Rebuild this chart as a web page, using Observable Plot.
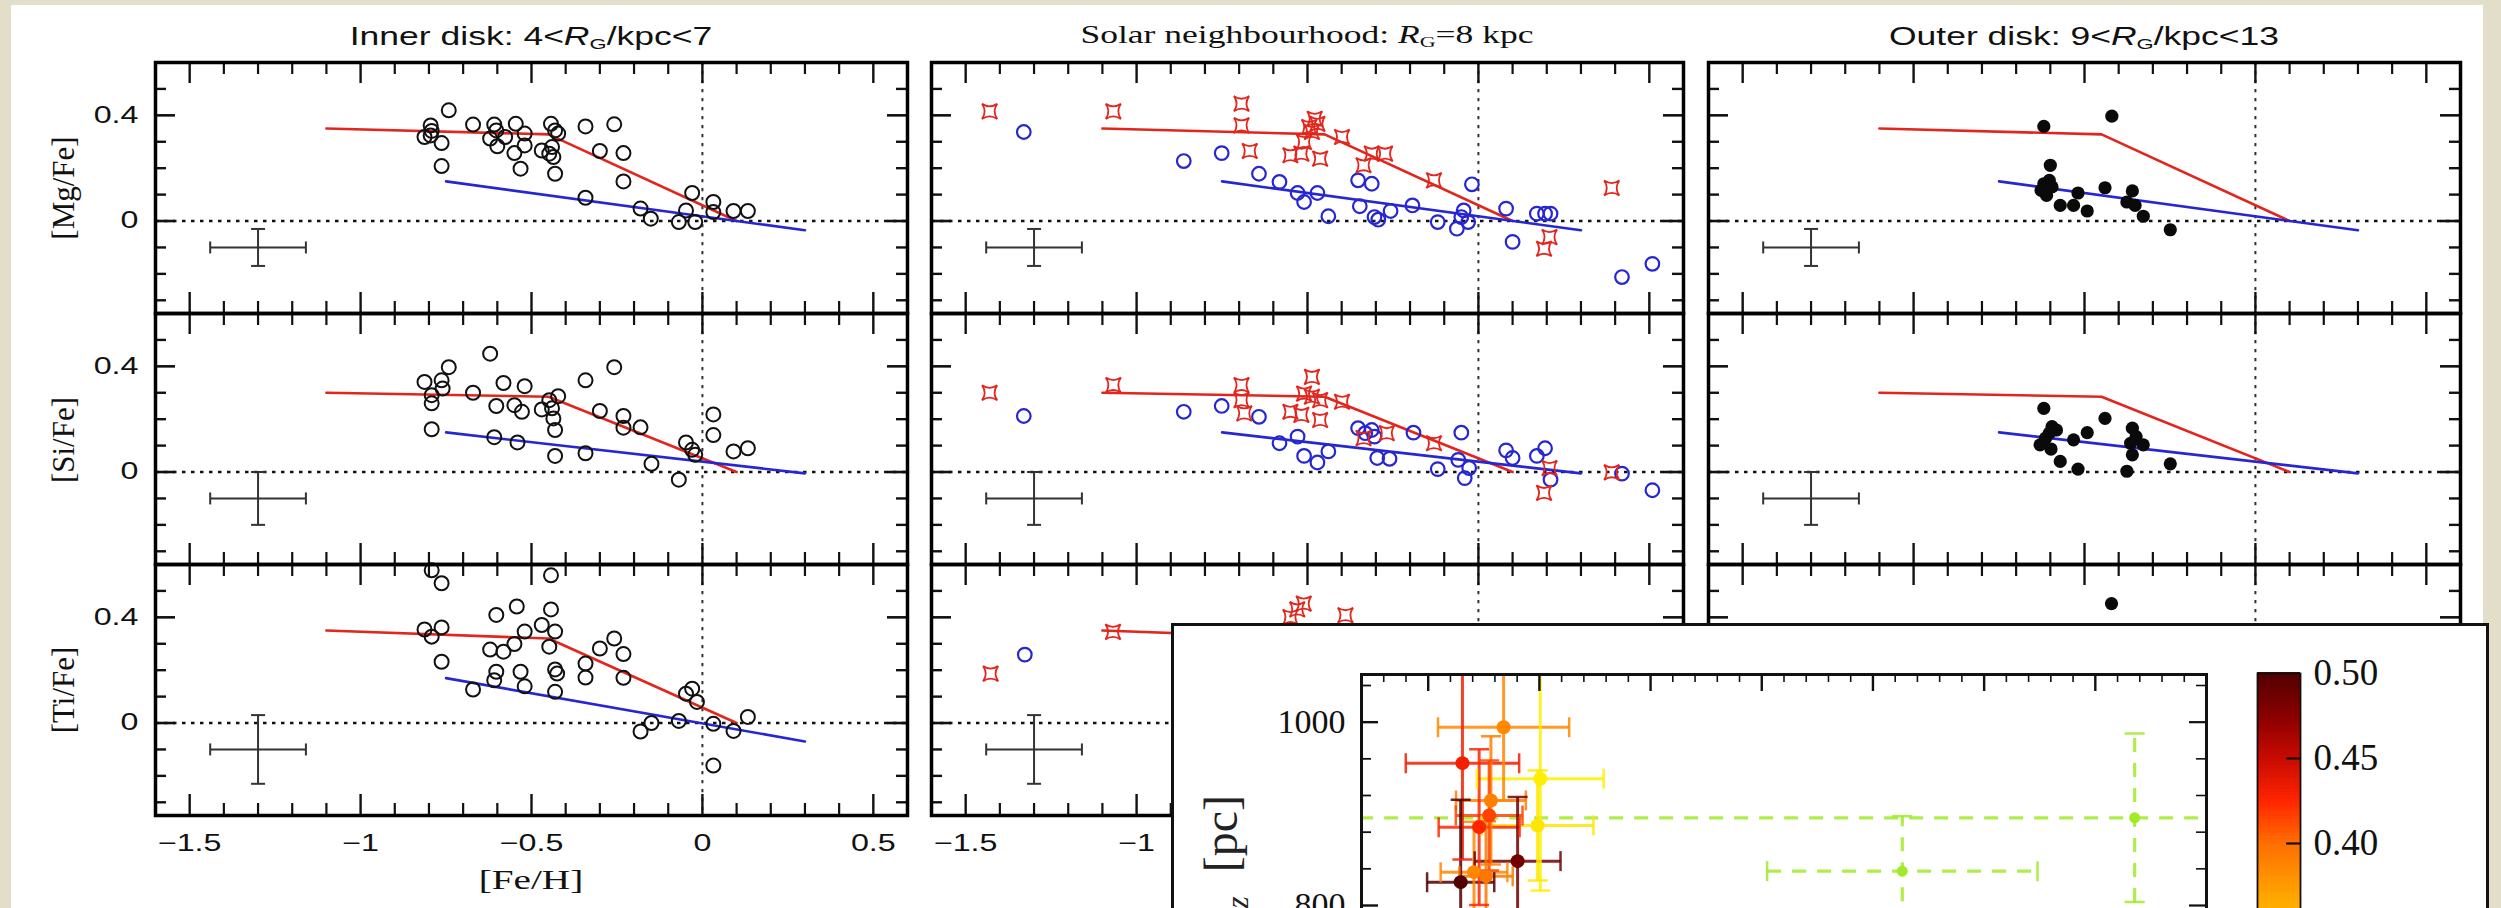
<!DOCTYPE html>
<html><head><meta charset="utf-8">
<script src="https://cdn.jsdelivr.net/npm/d3@7"></script>
<script src="https://cdn.jsdelivr.net/npm/@observablehq/plot@0.6"></script>
<style>
html,body{margin:0;padding:0;background:#e3dec9;overflow:hidden;}
#root{position:relative;width:2501px;height:908px;overflow:hidden;background:#e3dec9;}
#card{position:absolute;left:11px;top:5px;width:2472px;height:940px;background:#fff;}
.ttl{position:absolute;text-align:center;font-size:25px;line-height:30px;white-space:nowrap;transform:scaleX(1.42);color:#111;}
.ttl sub{font-size:0.62em;line-height:0;vertical-align:-0.25em;}
.sans{font-family:"Liberation Sans",Arial,sans-serif;}
.serif{font-family:"Liberation Serif","Times New Roman",serif;}
.ylab{position:absolute;width:200px;height:34px;line-height:34px;text-align:center;font-size:31px;transform:rotate(-90deg);white-space:nowrap;color:#111;}
.xlab{position:absolute;width:300px;height:34px;line-height:34px;text-align:center;font-size:27px;transform:scaleX(1.45);white-space:nowrap;color:#111;}
#insetbox{position:absolute;left:1171px;top:623px;width:1318px;height:400px;background:#fff;border:3px solid #111;box-sizing:border-box;}
.pc{position:absolute;width:400px;height:50px;line-height:50px;text-align:right;font-size:48px;transform:rotate(-90deg);white-space:nowrap;color:#222;}
.pc sub{font-size:0.65em;line-height:0;}
svg{position:absolute;overflow:visible;background:transparent;}
</style></head>
<body><div id="root"><div id="card"></div></div>
<script>
// ---------------- data ----------------
const regions = ["Inner disk", "Solar neighbourhood", "Outer disk"];
const elements = ["[Mg/Fe]", "[Si/Fe]", "[Ti/Fe]"];
const xTickLabels = [-1.5, -1, -0.5, 0, 0.5];
const yTickLabels = [0, 0.4];

// [Mg/Fe]
const innerMg = [[-0.742,0.419],[-0.795,0.362],[-0.792,0.341],[-0.813,0.318],[-0.795,0.324],[-0.763,0.295],[-0.763,0.208],[-0.671,0.365],[-0.609,0.365],[-0.603,0.343],[-0.621,0.312],[-0.600,0.283],[-0.546,0.368],[-0.577,0.318],[-0.520,0.331],[-0.550,0.257],[-0.532,0.198],[-0.520,0.286],[-0.470,0.267],[-0.443,0.368],[-0.431,0.343],[-0.422,0.331],[-0.448,0.255],[-0.436,0.242],[-0.431,0.179],[-0.440,0.280],[-0.342,0.358],[-0.258,0.366],[-0.300,0.265],[-0.231,0.257],[-0.231,0.150],[-0.342,0.088],[-0.181,0.047],[-0.151,0.009],[-0.069,-0.004],[-0.021,-0.004],[-0.048,0.040],[-0.030,0.106],[0.032,0.072],[0.032,0.034],[0.091,0.038],[0.133,0.038]];
const solarMgThick = [[-1.43,0.415],[-1.068,0.415],[-0.693,0.444],[-0.693,0.362],[-0.669,0.265],[-0.55,0.249],[-0.518,0.255],[-0.463,0.236],[-0.51,0.299],[-0.487,0.337],[-0.471,0.368],[-0.479,0.387],[-0.495,0.356],[-0.399,0.318],[-0.336,0.211],[-0.312,0.255],[-0.273,0.255],[-0.13,0.154],[0.39,0.125],[0.208,-0.061],[0.192,-0.105]];
const solarMgThin = [[-1.33,0.337],[-0.862,0.227],[-0.751,0.257],[-0.642,0.179],[-0.582,0.148],[-0.529,0.106],[-0.51,0.072],[-0.471,0.106],[-0.439,0.018],[-0.352,0.154],[-0.312,0.141],[-0.347,0.056],[-0.304,0.015],[-0.293,0.005],[-0.257,0.038],[-0.193,0.059],[-0.119,-0.004],[-0.063,-0.029],[-0.043,0.04],[-0.05,0.015],[-0.03,-0.004],[-0.019,0.139],[0.081,0.047],[0.1,-0.079],[0.171,0.028],[0.195,0.028],[0.211,0.028],[0.42,-0.212],[0.509,-0.162]];
const outerMg = [[-0.619,0.358],[-0.42,0.397],[-0.6,0.211],[-0.619,0.141],[-0.603,0.154],[-0.595,0.129],[-0.611,0.097],[-0.571,0.059],[-0.532,0.059],[-0.519,0.106],[-0.492,0.038],[-0.44,0.126],[-0.36,0.114],[-0.376,0.072],[-0.352,0.059],[-0.328,0.018],[-0.249,-0.033],[-0.627,0.116]];

// [Si/Fe]
const innerSi = [[-0.621,0.448],[-0.742,0.397],[-0.813,0.341],[-0.763,0.347],[-0.76,0.316],[-0.792,0.291],[-0.792,0.26],[-0.792,0.162],[-0.671,0.3],[-0.582,0.337],[-0.52,0.325],[-0.603,0.25],[-0.55,0.253],[-0.528,0.228],[-0.47,0.237],[-0.448,0.272],[-0.422,0.287],[-0.44,0.241],[-0.436,0.203],[-0.431,0.159],[-0.609,0.132],[-0.541,0.112],[-0.431,0.061],[-0.342,0.347],[-0.258,0.397],[-0.3,0.231],[-0.231,0.212],[-0.231,0.168],[-0.181,0.169],[-0.342,0.071],[-0.149,0.031],[-0.069,-0.029],[-0.048,0.112],[-0.03,0.084],[-0.021,0.065],[0.032,0.218],[0.032,0.14],[0.091,0.078],[0.133,0.09]];
const solarSiThick = [[-1.43,0.3],[-1.068,0.329],[-0.693,0.329],[-0.693,0.272],[-0.685,0.222],[-0.487,0.36],[-0.51,0.297],[-0.487,0.285],[-0.463,0.272],[-0.55,0.228],[-0.518,0.216],[-0.463,0.197],[-0.399,0.266],[-0.336,0.128],[-0.268,0.147],[-0.13,0.109],[0.208,0.015],[0.192,-0.079],[0.39,-0.001]];
const solarSiThin = [[-1.33,0.212],[-0.862,0.228],[-0.751,0.25],[-0.642,0.209],[-0.529,0.134],[-0.582,0.109],[-0.51,0.061],[-0.471,0.036],[-0.439,0.078],[-0.352,0.166],[-0.312,0.159],[-0.304,0.134],[-0.331,0.147],[-0.296,0.053],[-0.26,0.05],[-0.19,0.149],[-0.119,0.011],[-0.05,0.149],[-0.059,0.046],[-0.04,-0.023],[-0.027,0.015],[0.081,0.082],[0.1,0.053],[0.171,0.061],[0.195,0.09],[0.211,-0.029],[0.42,-0.006],[0.509,-0.069]];
const outerSi = [[-0.619,0.241],[-0.44,0.203],[-0.595,0.172],[-0.582,0.159],[-0.603,0.147],[-0.492,0.149],[-0.614,0.128],[-0.63,0.103],[-0.598,0.087],[-0.532,0.122],[-0.36,0.166],[-0.349,0.134],[-0.328,0.103],[-0.36,0.065],[-0.376,0.003],[-0.571,0.04],[-0.519,0.011],[-0.249,0.031],[-0.365,0.109]];

// [Ti/Fe]
const innerTi = [[-0.792,0.578],[-0.763,0.529],[-0.443,0.559],[-0.603,0.409],[-0.543,0.441],[-0.443,0.43],[-0.813,0.354],[-0.792,0.327],[-0.763,0.362],[-0.763,0.232],[-0.671,0.127],[-0.621,0.278],[-0.582,0.27],[-0.55,0.299],[-0.52,0.346],[-0.47,0.371],[-0.431,0.346],[-0.448,0.289],[-0.603,0.194],[-0.609,0.162],[-0.532,0.194],[-0.52,0.139],[-0.431,0.203],[-0.425,0.187],[-0.431,0.118],[-0.342,0.225],[-0.342,0.172],[-0.3,0.282],[-0.258,0.32],[-0.231,0.261],[-0.231,0.171],[-0.181,-0.032],[-0.149,0.0],[-0.069,0.008],[-0.048,0.111],[-0.03,0.13],[-0.016,0.08],[0.032,-0.003],[0.091,-0.03],[0.133,0.023],[0.032,-0.161]];
const solarTiThick = [[-1.427,0.187],[-1.069,0.345],[-0.511,0.452],[-0.55,0.401],[-0.389,0.408],[-0.53,0.43]];
const solarTiThin = [[-1.327,0.259]];
const outerTi = [[-0.421,0.452]];

// chemical evolution models (thick disc = red, thin disc = blue)
const thickMg = [[-1.1,0.35],[-0.45,0.328],[0.1,0.0]];
const thickSi = [[-1.1,0.30],[-0.45,0.285],[0.1,0.0]];
const thickTi = [[-1.1,0.35],[-0.45,0.32],[0.1,0.0]];
const thinMg = [[-0.75,0.15],[0.3,-0.035]];
const thinSi = [[-0.75,0.15],[0.3,-0.005]];
const thinTi = [[-0.75,0.17],[0.3,-0.07]];

// typical error bars
const errCenter = [-1.3, -0.1];
const errFeH = [0.14, 0.14, 0.14];
const errXFe = [0.07, 0.10, 0.13];

// inset: scale height vs scale length, colour = [alpha/Fe]
const insetHR   = [0.839, 0.654, 1.004, 0.992, 0.782, 0.774, 0.729, 0.902, 0.646, 0.706, 0.760];
const insetHZ   = [994.5, 955.3, 938.3, 887.3, 914.6, 898.2, 885.5, 848.4, 825.5, 836.4, 832.0];
const insetHRerr= [0.295, 0.255, 0.285, 0.251, 0.157, 0.150, 0.182, 0.193, 0.151, 0.150, 0.120];
const insetHZerr= [80, 105, 122, 60, 70, 60, 85, 70, 90, 55, 60];
const insetAlpha= [0.385, 0.43, 0.325, 0.33, 0.39, 0.415, 0.425, 0.485, 0.50, 0.385, 0.395];
const fitHR     = [3.677, 2.632];
const fitHZ     = [895.7, 837.5];
const fitHRerr  = [3.6, 0.608];
const fitHZerr  = [92, 60];
const fitAlpha  = [0.27, 0.27];
const insetXTicks = [0.5, 1, 1.5, 2, 2.5, 3, 3.5, 4];
const insetYTicks = [800, 1000];
const cbTicks = [0.50, 0.45, 0.40, 0.35, 0.30];
const cbStops  = [0.25, 0.275, 0.30, 0.325, 0.35, 0.375, 0.40, 0.425, 0.45, 0.475, 0.50];
const cbColors = ["#7fdc3c","#a8ee26","#d6f50c","#ffee00","#ffc400","#ff9a00","#ff6e00","#ff2400","#c80a00","#880000","#520000"];

// ---------------- layout ----------------
const RED = "#e3261d", BLUE = "#2626d2";
const SANS = "Liberation Sans, Arial, sans-serif";
const SERIF = "Liberation Serif, Times New Roman, serif";
const W = 752, H = 251;
const colLeft = [155, 931, 1708];
const rowTop = [62, 313, 564];
const xDomain = [-1.6, 0.6], yDomain = [-0.35, 0.6];
const xMinor = d3.range(-16, 7).map(i => i / 10).filter(v => !xTickLabels.some(m => Math.abs(m - v) < 1e-9));
const yMinor = d3.range(-3, 6).map(i => i / 10).filter(v => !yTickLabels.some(m => Math.abs(m - v) < 1e-9));
const plainFmt = d => (d < 0 ? "\u2212" : "") + String(Math.abs(d));

const series = [
  [[[innerMg, "open"]], [[solarMgThin, "blue"], [solarMgThick, "star"]], [[outerMg, "filled"]]],
  [[[innerSi, "open"]], [[solarSiThin, "blue"], [solarSiThick, "star"]], [[outerSi, "filled"]]],
  [[[innerTi, "open"]], [[solarTiThin, "blue"], [solarTiThick, "star"]], [[outerTi, "filled"]]]
];
const thickLines = [thickMg, thickSi, thickTi];
const thinLines = [thinMg, thinSi, thinTi];

const star4 = {draw(ctx, size) {
  const r = Math.sqrt(size / Math.PI) * 0.95, k = r * 0.3;
  ctx.moveTo(-r, -r);
  ctx.quadraticCurveTo(0, -k, r, -r);
  ctx.quadraticCurveTo(k, 0, r, r);
  ctx.quadraticCurveTo(0, k, -r, r);
  ctx.quadraticCurveTo(-k, 0, -r, -r);
  ctx.closePath();
}};
const capV = {draw(ctx, size) { const r = Math.sqrt(size / Math.PI); ctx.moveTo(0, -r); ctx.lineTo(0, r); }};
const capH = {draw(ctx, size) { const r = Math.sqrt(size / Math.PI); ctx.moveTo(-r, 0); ctx.lineTo(r, 0); }};

const root = document.getElementById("root");
const stretchList = [];

function dotMark(data, kind) {
  const base = {x: d => d[0], y: d => d[1]};
  if (kind === "open") return Plot.dot(data, {...base, r: 7, stroke: "#111", strokeWidth: 2, fill: "none"});
  if (kind === "blue") return Plot.dot(data, {...base, r: 6.8, stroke: BLUE, strokeWidth: 2.2, fill: "none"});
  if (kind === "star") return Plot.dot(data, {...base, r: 8, symbol: star4, stroke: RED, strokeWidth: 1.8, fill: "none"});
  return Plot.dot(data, {...base, r: 6.6, fill: "#0a0a0a", stroke: "none"});
}

function makePanel(col, row) {
  const mL = 90, mR = 12, mT = 12, mB = 80;
  const err = [{x: errCenter[0], y: errCenter[1], dx: errFeH[row], dy: errXFe[row]}];
  const marks = [
    Plot.ruleY([0], {stroke: "#111", strokeWidth: 2.4, strokeDasharray: "3.5,5.5"}),
    Plot.ruleX([0], {stroke: "#333", strokeWidth: 2, strokeDasharray: "3.3,5.7"}),
    Plot.tickX(xMinor, {x: d => d, insetTop: H - 12, strokeWidth: 2.2}),
    Plot.tickX(xMinor, {x: d => d, insetBottom: H - 12, strokeWidth: 2.2}),
    Plot.tickX(xTickLabels, {x: d => d, insetTop: H - 21, strokeWidth: 2.4}),
    Plot.tickX(xTickLabels, {x: d => d, insetBottom: H - 21, strokeWidth: 2.4}),
    Plot.tickY(yMinor, {y: d => d, insetRight: W - 11, strokeWidth: 2.4}),
    Plot.tickY(yMinor, {y: d => d, insetLeft: W - 11, strokeWidth: 2.4}),
    Plot.tickY(yTickLabels, {y: d => d, insetRight: W - 20, strokeWidth: 2.6}),
    Plot.tickY(yTickLabels, {y: d => d, insetLeft: W - 20, strokeWidth: 2.6}),
    // typical error cross
    Plot.link(err, {x1: d => d.x - d.dx, x2: d => d.x + d.dx, y1: d => d.y, y2: d => d.y, stroke: "#333", strokeWidth: 2}),
    Plot.link(err, {x1: d => d.x, x2: d => d.x, y1: d => d.y - d.dy, y2: d => d.y + d.dy, stroke: "#333", strokeWidth: 2}),
    Plot.dot(err, {x: d => d.x - d.dx, y: d => d.y, symbol: capV, r: 6, stroke: "#333", strokeWidth: 2, fill: "none"}),
    Plot.dot(err, {x: d => d.x + d.dx, y: d => d.y, symbol: capV, r: 6, stroke: "#333", strokeWidth: 2, fill: "none"}),
    Plot.dot(err, {x: d => d.x, y: d => d.y - d.dy, symbol: capH, r: 7, stroke: "#333", strokeWidth: 2, fill: "none"}),
    Plot.dot(err, {x: d => d.x, y: d => d.y + d.dy, symbol: capH, r: 7, stroke: "#333", strokeWidth: 2, fill: "none"}),
    // models
    Plot.line(thickLines[row], {x: d => d[0], y: d => d[1], stroke: RED, strokeWidth: 2.6}),
    Plot.line(thinLines[row], {x: d => d[0], y: d => d[1], stroke: BLUE, strokeWidth: 2.6}),
    ...series[row][col].map(([data, kind]) => dotMark(data, kind)),
    Plot.frame({stroke: "#000", strokeWidth: 3.5})
  ];
  if (col === 0) marks.push(Plot.axisY(yTickLabels, {anchor: "left", tickSize: 0, tickPadding: 17, fontSize: 23, fontFamily: SANS, tickFormat: plainFmt, label: null}));
  if (row === 2) marks.push(Plot.axisX(xTickLabels, {anchor: "bottom", tickSize: 0, tickPadding: 19, fontSize: 23, fontFamily: SANS, tickFormat: plainFmt, label: null}));
  const svg = Plot.plot({
    width: W + mL + mR, height: H + mT + mB,
    marginLeft: mL, marginRight: mR, marginTop: mT, marginBottom: mB,
    x: {domain: xDomain, axis: null}, y: {domain: yDomain, axis: null},
    style: {background: "transparent", overflow: "visible", color: "#111"},
    marks
  });
  svg.style.left = (colLeft[col] - mL) + "px";
  svg.style.top = (rowTop[row] - mT) + "px";
  root.appendChild(svg);
  stretchList.push(svg);
}

for (let r = 0; r < 3; r++) for (let c = 0; c < 3; c++) makePanel(c, r);

// titles and axis labels (HTML text)
function addDiv(cls, html, styleObj) {
  const d = document.createElement("div");
  d.className = cls; d.innerHTML = html;
  Object.assign(d.style, styleObj);
  root.appendChild(d);
  return d;
}
addDiv("ttl sans", "Inner disk: 4&lt;<i>R</i><sub>G</sub>/kpc&lt;7", {left: (531 - 300) + "px", top: "21px", width: "600px"});
addDiv("ttl serif", "Solar neighbourhood: <i>R</i><sub>G</sub>=8 kpc", {left: (1307 - 300) + "px", top: "20px", width: "600px"});
addDiv("ttl sans", "Outer disk: 9&lt;<i>R</i><sub>G</sub>/kpc&lt;13", {left: (2084 - 300) + "px", top: "21px", width: "600px"});
const yLabCenters = [188, 440, 690];
elements.forEach((e, i) => addDiv("ylab serif", e, {left: (64 - 100) + "px", top: (yLabCenters[i] - 17) + "px"}));
addDiv("xlab serif", "[Fe/H]", {left: (531 - 150) + "px", top: (880 - 17) + "px"});

// ---------------- inset ----------------
const insetBox = document.createElement("div");
insetBox.id = "insetbox";
root.appendChild(insetBox);

const insetMain = insetHR.map((x, i) => ({x, y: insetHZ[i], xe: insetHRerr[i], ye: insetHZerr[i], v: insetAlpha[i]}));
const insetFit = fitHR.map((x, i) => ({x, y: fitHZ[i], xe: fitHRerr[i], ye: fitHZerr[i], v: fitAlpha[i]}));
const colorScale = {type: "linear", domain: cbStops, range: cbColors};

function errMarks(data, extra) {
  const o = {strokeWidth: 3, strokeOpacity: 0.85, clip: true, ...extra};
  return [
    Plot.link(data, {x1: d => d.x - d.xe, x2: d => d.x + d.xe, y1: d => d.y, y2: d => d.y, stroke: d => d.v, ...o}),
    Plot.link(data, {x1: d => d.x, x2: d => d.x, y1: d => d.y - d.ye, y2: d => d.y + d.ye, stroke: d => d.v, ...o}),
    Plot.dot(data, {x: d => d.x - d.xe, y: d => d.y, symbol: capV, r: 10, stroke: d => d.v, strokeWidth: 2.5, strokeOpacity: 0.85, fill: "none", clip: true}),
    Plot.dot(data, {x: d => d.x + d.xe, y: d => d.y, symbol: capV, r: 10, stroke: d => d.v, strokeWidth: 2.5, strokeOpacity: 0.85, fill: "none", clip: true}),
    Plot.dot(data, {x: d => d.x, y: d => d.y - d.ye, symbol: capH, r: 10, stroke: d => d.v, strokeWidth: 2.5, strokeOpacity: 0.85, fill: "none", clip: true}),
    Plot.dot(data, {x: d => d.x, y: d => d.y + d.ye, symbol: capH, r: 10, stroke: d => d.v, strokeWidth: 2.5, strokeOpacity: 0.85, fill: "none", clip: true})
  ];
}

(function makeInset() {
  const iW = 845, pxPerPc = 0.9167, yDom = [700, 1052];
  const iH = (yDom[1] - yDom[0]) * pxPerPc;
  const mL = 110, mR = 10, mT = 10, mB = 10;
  const xMin = d3.range(2, 41).map(i => i / 10).filter(v => !insetXTicks.some(m => Math.abs(m - v) < 1e-9));
  const yMin = d3.range(720, 1052, 40).filter(v => !insetYTicks.includes(v));
  const svg = Plot.plot({
    width: iW + mL + mR, height: iH + mT + mB,
    marginLeft: mL, marginRight: mR, marginTop: mT, marginBottom: mB,
    x: {domain: [0.2, 4.0], axis: null}, y: {domain: yDom, axis: null},
    color: colorScale,
    style: {background: "transparent", overflow: "visible", color: "#111"},
    marks: [
      ...errMarks(insetFit, {strokeDasharray: "14,11", strokeWidth: 3.2}),
      ...errMarks(insetMain, {}),
      Plot.dot(insetFit, {x: "x", y: "y", fill: "v", r: 5.5, clip: true}),
      Plot.dot(insetMain, {x: "x", y: "y", fill: "v", r: 7, clip: true}),
      Plot.tickX(xMin, {x: d => d, insetBottom: iH - 8, strokeWidth: 1.6}),
      Plot.tickX(insetXTicks, {x: d => d, insetBottom: iH - 17, strokeWidth: 2.4}),
      Plot.tickY(yMin, {y: d => d, insetRight: iW - 10, strokeWidth: 1.8}),
      Plot.tickY(insetYTicks, {y: d => d, insetRight: iW - 17, strokeWidth: 2.4}),
      Plot.tickY(yMin, {y: d => d, insetLeft: iW - 10, strokeWidth: 1.6}),
      Plot.tickY(insetYTicks, {y: d => d, insetLeft: iW - 17, strokeWidth: 2.2}),
      Plot.frame({stroke: "#111", strokeWidth: 3}),
      Plot.axisY(insetYTicks, {anchor: "left", tickSize: 0, tickPadding: 16, fontSize: 34, fontFamily: SERIF, tickFormat: d => String(d), label: null})
    ]
  });
  svg.style.left = (1361 - mL) + "px";
  svg.style.top = (674 - mT) + "px";
  root.appendChild(svg);
})();

(function makeColorbar() {
  const cW = 43, pxPerUnit = 1700, dom = [0.30, 0.50];
  const cH = (dom[1] - dom[0]) * pxPerUnit;
  const mL = 5, mR = 100, mT = 5, mB = 5;
  const bands = d3.range(0, 100).map(i => dom[0] + i * (dom[1] - dom[0]) / 100);
  const step = (dom[1] - dom[0]) / 100;
  const svg = Plot.plot({
    width: cW + mL + mR, height: cH + mT + mB,
    marginLeft: mL, marginRight: mR, marginTop: mT, marginBottom: mB,
    x: {domain: [0, 1], axis: null}, y: {domain: dom, axis: null},
    color: colorScale,
    style: {background: "transparent", overflow: "visible", color: "#111"},
    marks: [
      Plot.rect(bands, {x1: 0, x2: 1, y1: d => d, y2: d => d + step * 1.3, fill: d => d + step / 2, shapeRendering: "crispEdges"}),
      Plot.tickY(cbTicks.slice(1), {y: d => d, insetLeft: cW - 14, strokeWidth: 2.2, stroke: "#111"}),
      Plot.frame({stroke: "#111", strokeWidth: 1.8}),
      Plot.axisY(cbTicks, {anchor: "right", tickSize: 0, tickPadding: 13, fontSize: 37, fontFamily: SERIF, tickFormat: d3.format(".2f"), label: null})
    ]
  });
  svg.style.left = (2257 - mL) + "px";
  svg.style.top = (673 - mT) + "px";
  root.appendChild(svg);
})();

addDiv("pc serif", "<i>h</i><sub><i>z</i></sub>&nbsp;&nbsp;[pc]", {left: (1221 - 200) + "px", top: (995 - 25) + "px"});

// horizontally stretched lettering of the original figure
stretchList.forEach(svg => svg.querySelectorAll("text").forEach(t => {
  const L = t.getComputedTextLength();
  if (L > 0) { t.setAttribute("textLength", (L * 1.4).toFixed(1)); t.setAttribute("lengthAdjust", "spacingAndGlyphs"); }
}));
</script></body></html>
